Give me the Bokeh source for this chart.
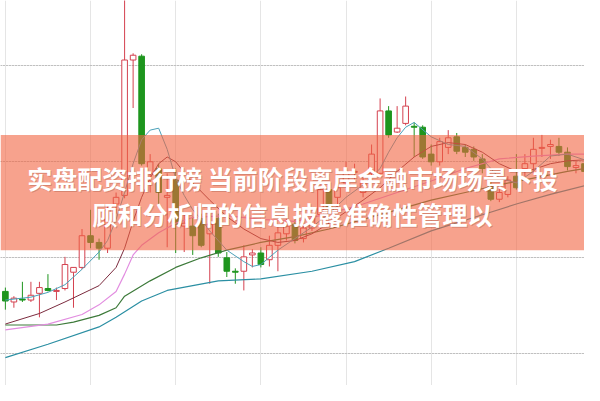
import numpy as np
from bokeh.plotting import figure
from bokeh.models import ColumnDataSource, BoxAnnotation, Label, Grid, FixedTicker, Range1d
from bokeh.embed import file_html
from bokeh.resources import INLINE

# ---- candle data (price units) ----
opens = [10.65, 10.54, 10.57, 10.56, 10.63, 10.68, 10.65, 10.68, 10.85, 10.90,
         11.23, 11.16, 11.10, 11.56, 11.65, 13.06, 13.10, 11.88, 11.93, 11.63,
         11.81, 11.33, 11.33, 11.41, 11.25, 11.41, 11.00, 10.86, 10.86, 11.03,
         11.05, 10.98, 11.13, 11.25, 11.35, 11.20, 11.31, 11.45, 11.71, 11.63,
         11.78, 11.89, 11.68, 11.88, 11.88, 12.53, 12.31, 12.40, 12.37, 12.36,
         12.08, 12.00, 12.15, 12.26, 12.15, 12.13, 12.03, 11.76, 11.61, 11.66,
         11.85, 11.93, 11.98, 12.14, 12.16, 12.16, 12.10, 11.94, 11.98]
highs = [10.69, 10.60, 10.75, 10.75, 10.75, 10.83, 10.69, 11.01, 10.90, 11.30,
         11.50, 11.20, 11.55, 11.68, 13.88, 13.13, 13.12, 12.08, 11.98, 11.88,
         11.93, 11.46, 11.43, 11.46, 11.45, 11.46, 11.06, 10.89, 11.13, 11.09,
         11.11, 11.23, 11.35, 11.41, 11.40, 11.38, 11.46, 11.75, 11.78, 11.83,
         12.00, 11.98, 11.88, 12.18, 12.66, 12.58, 12.58, 12.68, 12.41, 12.38,
         12.18, 12.25, 12.33, 12.30, 12.18, 12.16, 12.08, 11.80, 11.73, 11.85,
         12.08, 12.08, 12.25, 12.28, 12.23, 12.25, 12.15, 12.01, 12.03]
lows = [10.46, 10.48, 10.54, 10.54, 10.38, 10.65, 10.56, 10.66, 10.48, 10.88,
        11.10, 10.98, 11.05, 11.46, 11.62, 12.56, 11.96, 11.68, 11.53, 11.11,
        11.05, 11.06, 11.03, 11.11, 10.73, 11.01, 10.80, 10.73, 10.66, 10.90,
        10.90, 10.91, 10.86, 11.18, 11.15, 11.16, 11.28, 11.42, 11.48, 11.53,
        11.73, 11.81, 11.63, 11.83, 11.86, 12.25, 12.30, 12.38, 12.05, 12.03,
        11.96, 11.96, 12.08, 12.08, 12.05, 12.01, 11.88, 11.59, 11.58, 11.63,
        11.71, 11.85, 11.88, 12.05, 12.03, 12.06, 11.91, 11.88, 11.86]
closes = [10.55, 10.58, 10.56, 10.61, 10.69, 10.66, 10.66, 10.93, 10.90, 11.23,
          11.16, 11.10, 11.50, 11.63, 13.06, 13.11, 11.98, 12.00, 11.68, 11.65,
          11.35, 11.36, 11.23, 11.13, 11.35, 11.05, 10.86, 10.85, 11.01, 11.05,
          10.93, 11.13, 11.26, 11.33, 11.18, 11.31, 11.41, 11.71, 11.53, 11.73,
          11.90, 11.90, 11.78, 12.08, 12.53, 12.28, 12.35, 12.58, 12.36, 12.05,
          12.00, 12.21, 12.25, 12.11, 12.10, 12.05, 11.93, 11.61, 11.68, 11.81,
          11.73, 11.98, 12.13, 12.15, 12.18, 12.10, 11.95, 11.96, 11.90]
days = list(range(len(opens)))

# ---- moving averages (day, value) ----
ma5_day = [0, 3, 5, 7, 9, 11, 12, 13, 14, 15, 16, 17, 18, 19, 20, 21, 22, 23, 24, 26,
           28, 29, 30, 32, 34, 36, 38, 40, 42, 44, 45, 46, 47, 48, 50, 52, 54, 56, 58,
           60, 62, 64, 66, 68]
ma5 = [10.56, 10.59, 10.64, 10.72, 10.88, 11.06, 11.18, 11.40, 11.68, 11.98, 12.23,
       12.33, 12.35, 12.13, 11.83, 11.65, 11.50, 11.40, 11.28, 11.08, 10.96, 10.91,
       10.93, 11.08, 11.20, 11.32, 11.46, 11.63, 11.76, 11.93, 12.10, 12.25, 12.36,
       12.41, 12.26, 12.18, 12.16, 12.03, 11.83, 11.78, 11.90, 12.06, 12.08, 12.02]
ma10_day = [0, 4, 7, 11, 13, 14, 15, 16, 17, 18, 19, 20, 22, 24, 26, 28, 30, 32, 34,
            36, 38, 40, 42, 44, 46, 48, 50, 52, 54, 56, 58, 60, 62, 64, 66, 68]
ma10 = [10.31, 10.42, 10.54, 10.71, 10.90, 11.10, 11.38, 11.63, 11.83, 11.98, 12.05,
        12.00, 11.78, 11.60, 11.43, 11.30, 11.20, 11.16, 11.18, 11.25, 11.36, 11.48,
        11.60, 11.73, 11.90, 12.05, 12.16, 12.20, 12.18, 12.10, 11.98, 11.90, 11.92,
        11.98, 12.01, 12.02]
ma20_day = [0, 5, 9, 11, 13, 14, 15, 16, 18, 20, 22, 26, 30, 34, 38, 42, 46, 50, 54,
            58, 62, 66, 68]
ma20 = [10.25, 10.31, 10.41, 10.51, 10.65, 10.83, 11.03, 11.13, 11.26, 11.36, 11.42,
        11.44, 11.40, 11.38, 11.46, 11.56, 11.68, 11.80, 11.93, 12.03, 12.06, 12.08,
        12.08]
ma30_day = [0, 6, 8, 11, 13, 14, 17, 20, 23, 26, 30, 34, 38, 42, 46, 50, 54, 58, 62,
            66, 68]
ma30 = [10.30, 10.30, 10.33, 10.40, 10.48, 10.60, 10.76, 10.90, 11.00, 11.08, 11.16,
        11.22, 11.30, 11.40, 11.50, 11.60, 11.68, 11.76, 11.83, 11.90, 11.93]
ma60_day = [0, 5, 11, 13, 16, 19, 22, 25, 30, 36, 41, 45, 50, 55, 60, 64, 68]
ma60 = [9.96, 10.10, 10.28, 10.38, 10.55, 10.66, 10.71, 10.76, 10.78, 10.86, 10.96,
        11.10, 11.28, 11.42, 11.56, 11.66, 11.75]

grid_levels = [10, 11, 12, 13]
title_lines = ["实盘配资排行榜 当前阶段离岸金融市场场景下投",
               "顾和分析师的信息披露准确性管理以"]

UP = "#d4414f"
DOWN = "#1e951e"

o = np.array(opens); c = np.array(closes)
up = c >= o
src = ColumnDataSource(dict(
    day=days, open=opens, close=closes, high=highs, low=lows,
    top=np.maximum(o, c), bottom=np.minimum(o, c),
    line=[UP if u else DOWN for u in up],
    fill=["white" if u else DOWN for u in up],
))

x0, x1 = -0.571, 68.0
y0, y1 = 9.67, 13.68
p = figure(width=584, height=385, x_range=Range1d(x0, x1), y_range=Range1d(y0, y1),
           output_backend="svg", toolbar_location=None,
           x_axis_location=None, y_axis_location=None, min_border=0,
           outline_line_color=None, background_fill_color="white",
           border_fill_color="white")
p.add_layout(Grid(dimension=1, ticker=FixedTicker(ticks=grid_levels),
                  grid_line_color="#9a9a9a", grid_line_dash="1 2", grid_line_width=1))

p.segment(x0="day", y0="high", x1="day", y1="low", line_color="line", line_width=1, source=src)
p.vbar(x="day", top="top", bottom="bottom", width=0.66, fill_color="fill",
       line_color="line", line_width=1, source=src)

p.line(ma60_day, ma60, line_color="#2b8fa3", line_width=1.2)
p.line(ma30_day, ma30, line_color="#3d7a3a", line_width=1.2)
p.line(ma20_day, ma20, line_color="#e28de0", line_width=1.2)
p.line(ma10_day, ma10, line_color="#7b2b3e", line_width=1.0)
p.line(ma5_day, ma5, line_color="#4aa0b8", line_width=1.0)

p.add_layout(BoxAnnotation(bottom=11.08, top=12.28, fill_color="#F26441",
                           fill_alpha=0.6, line_color=None))
xc = (x0 + x1) / 2
for txt, yy in zip(title_lines, [11.83, 11.46]):
    p.add_layout(Label(x=xc, y=yy, x_offset=1, y_offset=-1, text=txt,
                       text_align="center", text_baseline="middle",
                       text_color="#7a3020", text_alpha=0.25,
                       text_font="Noto Sans CJK SC", text_font_style="bold",
                       text_font_size="25px"))
    p.add_layout(Label(x=xc, y=yy, text=txt, text_align="center", text_baseline="middle",
                       text_color="white", text_font="Noto Sans CJK SC",
                       text_font_style="bold", text_font_size="25px"))

open("out.html", "w").write(file_html(p, INLINE))
